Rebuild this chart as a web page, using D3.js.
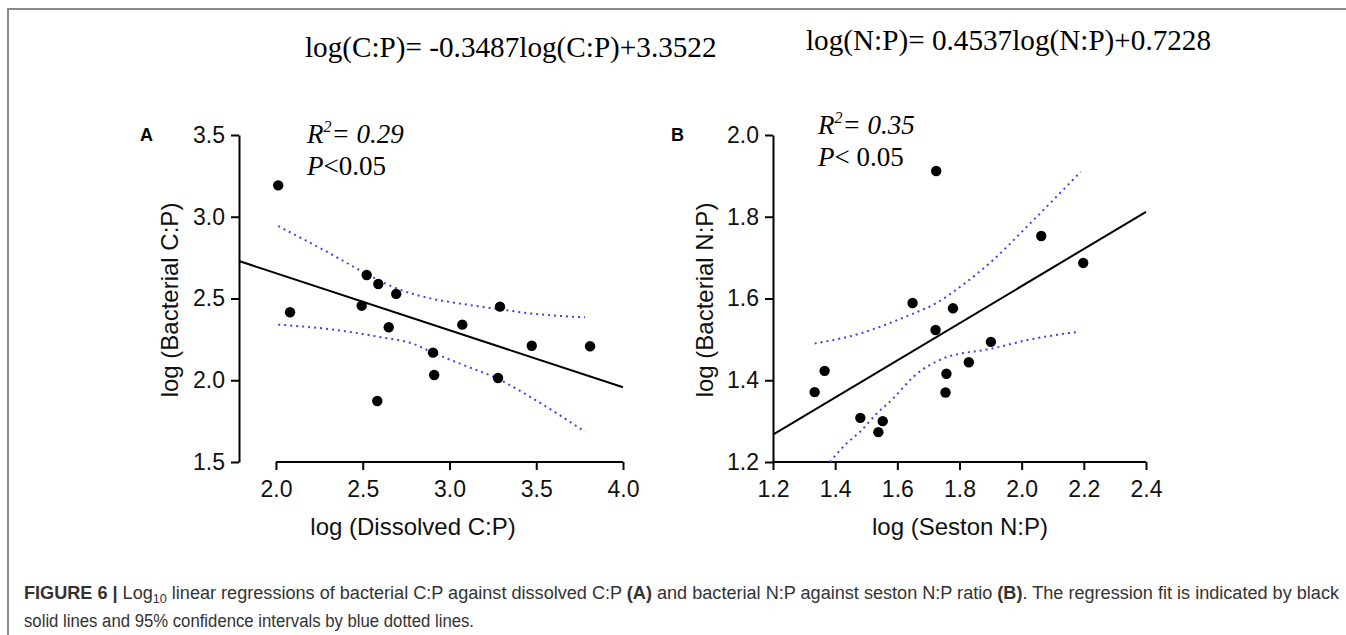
<!DOCTYPE html>
<html>
<head>
<meta charset="utf-8">
<script src="https://cdnjs.cloudflare.com/ajax/libs/d3/7.8.5/d3.min.js"></script>
<style>
  body { margin: 0; background: #fff; }
  svg { display: block; }
  .tick text { font-family: "Liberation Sans", Arial, sans-serif; }
</style>
</head>
<body>
<svg width="1346" height="635"></svg>
<script>
// ---- data ----
// panel A: bacterial C:P vs dissolved C:P
var dissolvedCP = [2.013, 2.081, 2.523, 2.590, 2.693, 2.494, 2.650, 2.584, 2.905, 2.912, 3.074, 3.291, 3.280, 3.474, 3.810];
var bactCP      = [3.192, 2.416, 2.644, 2.589, 2.528, 2.456, 2.324, 1.873, 2.169, 2.032, 2.340, 2.450, 2.014, 2.211, 2.208];
var fitA = [[1.787, 2.729], [4.0, 1.957]];
var upperA = [[2.013, 2.943], [2.311, 2.776], [2.523, 2.650], [2.695, 2.562], [2.888, 2.501], [3.080, 2.466], [3.291, 2.434], [3.464, 2.409], [3.781, 2.385]];
var lowerA = [[2.013, 2.340], [2.311, 2.312], [2.590, 2.266], [2.792, 2.222], [2.905, 2.169], [3.080, 2.093], [3.272, 2.012], [3.464, 1.899], [3.781, 1.685]];
var xTicksA = [2.0, 2.5, 3.0, 3.5, 4.0];
var yTicksA = [1.5, 2.0, 2.5, 3.0, 3.5];

// panel B: bacterial N:P vs seston N:P
var sestonNP = [1.334, 1.366, 1.481, 1.539, 1.553, 1.649, 1.725, 1.723, 1.779, 1.758, 1.755, 1.830, 1.901, 2.063, 2.198];
var bactNP   = [1.371, 1.423, 1.308, 1.273, 1.300, 1.589, 1.912, 1.523, 1.576, 1.416, 1.370, 1.444, 1.494, 1.753, 1.687];
var fitB = [[1.2, 1.267], [2.4, 1.812]];
var upperB = [[1.334, 1.490], [1.479, 1.514], [1.586, 1.543], [1.651, 1.563], [1.726, 1.589], [1.801, 1.628], [1.908, 1.694], [2.016, 1.775], [2.190, 1.910]];
var lowerB = [[1.383, 1.200], [1.436, 1.245], [1.479, 1.273], [1.533, 1.318], [1.586, 1.355], [1.651, 1.408], [1.747, 1.453], [1.908, 1.478], [2.016, 1.498], [2.177, 1.518]];
var xTicksB = [1.2, 1.4, 1.6, 1.8, 2.0, 2.2, 2.4];
var yTicksB = [1.2, 1.4, 1.6, 1.8, 2.0];

var svg = d3.select("svg");
var sans = '"Liberation Sans", Arial, sans-serif',
    serif = '"Liberation Serif", "Times New Roman", serif';

// frame round the figure
svg.append("path")
    .attr("d", "M8,635V9H1346")
    .attr("fill", "none")
    .attr("stroke", "#8a8a8a")
    .attr("stroke-width", 2);

// equations on top
svg.append("text").attr("x", 305).attr("y", 57)
    .style("font-family", serif).style("font-size", "29.2px")
    .text("log(C:P)= -0.3487log(C:P)+3.3522");
svg.append("text").attr("x", 806).attr("y", 50)
    .style("font-family", serif).style("font-size", "29.2px")
    .text("log(N:P)= 0.4537log(N:P)+0.7228");

function panel(opt) {
    var x = d3.scaleLinear().domain(opt.xDomain).range(opt.xRange),
        y = d3.scaleLinear().domain(opt.yDomain).range([462, 135]);

    var g = svg.append("g");

    // y axis
    g.append("g")
        .attr("transform", "translate(" + opt.xRange[0] + ",0)")
        .call(d3.axisLeft(y).tickValues(opt.yTicks).tickFormat(d3.format(".1f")).tickSize(8).tickSizeOuter(0).tickPadding(6))
        .call(function(a) {
            a.select(".domain").attr("stroke-width", 2);
            a.selectAll(".tick line").attr("stroke-width", 2);
            a.selectAll(".tick text").style("font-size", "23px").attr("fill", "#111");
        });

    // x axis, line only across the tick range
    var xa = opt.xTicks;
    g.append("g")
        .attr("transform", "translate(0,462)")
        .call(d3.axisBottom(x).tickValues(xa).tickFormat(d3.format(".1f")).tickSize(8).tickSizeOuter(0).tickPadding(11))
        .call(function(a) {
            a.select(".domain")
                .attr("d", "M" + x(xa[0]) + ",0H" + x(xa[xa.length - 1]))
                .attr("stroke-width", 2);
            a.selectAll(".tick line").attr("stroke-width", 2);
            a.selectAll(".tick text").style("font-size", "23px").attr("fill", "#111");
        });

    // axis titles
    g.append("text")
        .attr("transform", "translate(" + opt.yLabelX + ",300) rotate(-90)")
        .attr("text-anchor", "middle")
        .attr("dy", "0.35em")
        .style("font-family", sans).style("font-size", "24px").attr("fill", "#111")
        .text(opt.yLabel);
    g.append("text")
        .attr("x", opt.xLabelX).attr("y", 527)
        .attr("text-anchor", "middle")
        .attr("dy", "0.35em")
        .style("font-family", sans).style("font-size", "24px").attr("fill", "#111")
        .text(opt.xLabel);

    // panel letter
    g.append("text")
        .attr("x", opt.letterX).attr("y", 141)
        .style("font-family", sans).style("font-size", "18px").style("font-weight", "bold")
        .text(opt.letter);

    // confidence bands
    var band = d3.line()
        .x(function(d) { return x(d[0]); })
        .y(function(d) { return y(d[1]); })
        .curve(d3.curveMonotoneX);
    [opt.upper, opt.lower].forEach(function(b) {
        g.append("path")
            .attr("d", band(b))
            .attr("fill", "none")
            .attr("stroke", "#4a3fe0")
            .attr("stroke-width", 2)
            .attr("stroke-dasharray", "2,4");
    });

    // regression line
    g.append("path")
        .attr("d", d3.line().x(function(d) { return x(d[0]); }).y(function(d) { return y(d[1]); })(opt.fit))
        .attr("fill", "none")
        .attr("stroke", "#000")
        .attr("stroke-width", 2);

    // points
    g.selectAll("circle.pt")
        .data(opt.xs)
        .enter().append("circle")
        .attr("class", "pt")
        .attr("cx", function(d) { return x(d); })
        .attr("cy", function(d, i) { return y(opt.ys[i]); })
        .attr("r", 5.2)
        .attr("fill", "#000");

    // stats
    var r2 = g.append("text")
        .attr("x", opt.statX).attr("y", opt.statY)
        .style("font-family", serif).style("font-size", "27px").style("font-style", "italic");
    r2.append("tspan").text("R");
    r2.append("tspan").attr("dy", -11).style("font-size", "16px").text("2");
    r2.append("tspan").attr("dy", 11).text("= " + opt.r2);

    var p = g.append("text")
        .attr("x", opt.statX).attr("y", opt.statY + 32)
        .style("font-family", serif).style("font-size", "27px");
    p.append("tspan").style("font-style", "italic").text("P");
    p.append("tspan").text(opt.p);
}

panel({
    xDomain: [1.787, 4.0], xRange: [239, 623],
    yDomain: [1.5, 3.5],
    xTicks: xTicksA, yTicks: yTicksA,
    xs: dissolvedCP, ys: bactCP,
    fit: fitA, upper: upperA, lower: lowerA,
    yLabel: "log (Bacterial C:P)", yLabelX: 170,
    xLabel: "log (Dissolved C:P)", xLabelX: 413,
    letter: "A", letterX: 140,
    statX: 307, statY: 143, r2: "0.29", p: "<0.05"
});

panel({
    xDomain: [1.2, 2.4], xRange: [773, 1146],
    yDomain: [1.2, 2.0],
    xTicks: xTicksB, yTicks: yTicksB,
    xs: sestonNP, ys: bactNP,
    fit: fitB, upper: upperB, lower: lowerB,
    yLabel: "log (Bacterial N:P)", yLabelX: 705,
    xLabel: "log (Seston N:P)", xLabelX: 960,
    letter: "B", letterX: 671,
    statX: 818, statY: 134, r2: "0.35", p: "< 0.05"
});

// caption, narrow sans squeezed to the widths in the figure
var cap = svg.append("g")
    .style("font-family", sans).style("font-size", "18px").attr("fill", "#333");
var l1 = cap.append("text").attr("x", 24).attr("y", 599)
    .attr("textLength", 1315).attr("lengthAdjust", "spacingAndGlyphs");
l1.append("tspan").style("font-weight", "bold").text("FIGURE 6 | ");
l1.append("tspan").text("Log");
l1.append("tspan").attr("dy", 4).style("font-size", "12.5px").text("10");
l1.append("tspan").attr("dy", -4).text(" linear regressions of bacterial C:P against dissolved C:P ");
l1.append("tspan").style("font-weight", "bold").text("(A)");
l1.append("tspan").text(" and bacterial N:P against seston N:P ratio ");
l1.append("tspan").style("font-weight", "bold").text("(B)");
l1.append("tspan").text(". The regression fit is indicated by black");
cap.append("text").attr("x", 24).attr("y", 627)
    .attr("textLength", 450).attr("lengthAdjust", "spacingAndGlyphs")
    .text("solid lines and 95% confidence intervals by blue dotted lines.");
</script>
</body>
</html>
